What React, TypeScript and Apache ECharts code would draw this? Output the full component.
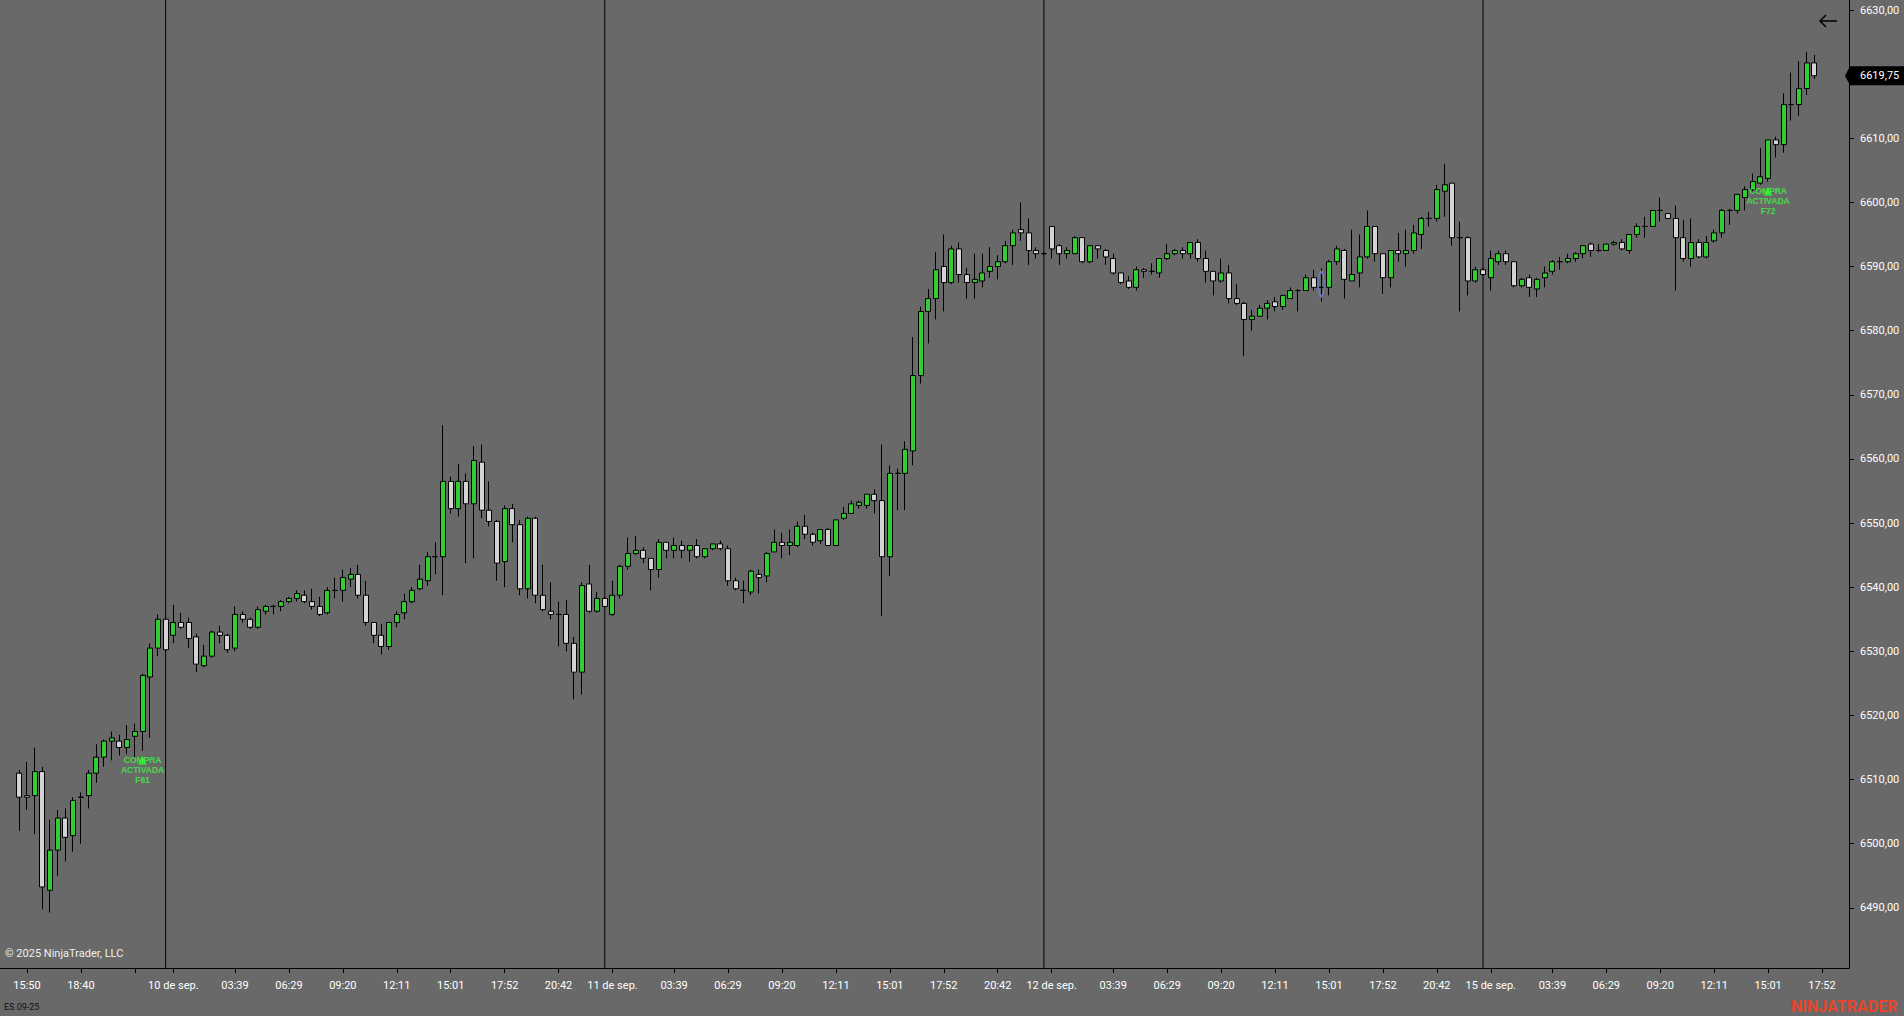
import React, { useEffect, useRef } from 'react';
import * as echarts from 'echarts';

// OHLC per bar (ES 09-25)
const opens = [
  6511, 6507.5, 6507.5, 6511.25, 6492.75, 6499, 6504, 6501.25, 6507.25, 6507.5,
  6511, 6513.5, 6516, 6516, 6515, 6516.75, 6517.5, 6526, 6530.5, 6535,
  6532.5, 6534.5, 6534.5, 6532.25, 6527.75, 6529.25, 6533, 6532.5, 6530.5, 6535.75,
  6535, 6533.75, 6536.25, 6537, 6537, 6537.75, 6538.25, 6538.75, 6537.75, 6537,
  6536, 6539.5, 6539.5, 6541.25, 6542, 6538.75, 6534.5, 6532.5, 6530.75, 6534.5,
  6536, 6537.75, 6539.75, 6541, 6544.75, 6544.75, 6556.5, 6552.25, 6556.5, 6553,
  6559.5, 6552, 6550.25, 6544, 6552.25, 6549.75, 6539.75, 6550.75, 6538.75, 6536.25,
  6535.75, 6535.75, 6531.25, 6526.75, 6540.5, 6536.25, 6538.25, 6535.75, 6538.75, 6543.25,
  6545.25, 6545.75, 6544.5, 6542.75, 6547, 6545.75, 6546.5, 6545.75, 6546.5, 6544.75,
  6546, 6546.75, 6546, 6541, 6539.5, 6539.25, 6542, 6541.75, 6545.5, 6547,
  6546.5, 6546.5, 6549.5, 6548.25, 6547.25, 6549, 6546.5, 6550.75, 6551.5, 6552.75,
  6552.75, 6554.5, 6553.5, 6544.75, 6557.75, 6557.75, 6561.25, 6573, 6583, 6585,
  6590, 6587.5, 6592.75, 6588.75, 6587.5, 6587.75, 6589.25, 6590, 6590.75, 6593.25,
  6595.75, 6595.25, 6592.5, 6592, 6596.25, 6593.25, 6592, 6592, 6594.5, 6590.75,
  6593.25, 6592.5, 6591.25, 6589, 6587.75, 6586.75, 6589.5, 6589.25, 6589, 6591.25,
  6592, 6592.5, 6592, 6593.75, 6591.25, 6589.25, 6587.75, 6589, 6585, 6584.25,
  6581.75, 6582.25, 6583.5, 6584.5, 6583.75, 6585, 6586.25, 6586.25, 6588.25, 6586.75,
  6586.75, 6590.75, 6592.5, 6587.75, 6589, 6591.5, 6596.25, 6592, 6588.25, 6592.5,
  6592, 6592.5, 6595, 6597.5, 6597.5, 6601.75, 6603, 6594.5, 6594.5, 6587.75,
  6589.5, 6588.25, 6590.75, 6592, 6590.75, 6587, 6588.25, 6586.5, 6588.25, 6589.25,
  6590.75, 6590.75, 6591.25, 6592, 6593.5, 6592.5, 6592.5, 6593.5, 6593.75, 6592.5,
  6595, 6596.25, 6596.25, 6598.75, 6598.25, 6597.5, 6594.5, 6591.25, 6593.75, 6591.5,
  6594, 6595.25, 6598.75, 6598.75, 6600.75, 6602, 6603, 6603.75, 6609.75, 6609,
  6615.25, 6615.25, 6617.75, 6621.75
];
const highs = [
  6511.5, 6512.75, 6515, 6512, 6503.75, 6505.25, 6505.5, 6507.25, 6508, 6511.5,
  6515.5, 6516.25, 6517.5, 6517, 6518.5, 6518.75, 6526.5, 6531.25, 6535.75, 6535.25,
  6537.25, 6536, 6535.25, 6532.75, 6531, 6533.25, 6534, 6532.75, 6537, 6536.25,
  6535.25, 6537, 6537.25, 6537.25, 6538, 6538.5, 6539.5, 6539.5, 6539.75, 6538.5,
  6540, 6541.5, 6542.75, 6543, 6543.5, 6541, 6534.5, 6534.25, 6534.5, 6536.25,
  6539, 6540, 6543.5, 6545.5, 6547, 6565.25, 6557.25, 6559.25, 6557.75, 6562,
  6562.25, 6556.5, 6550.5, 6552.75, 6553, 6550.5, 6551, 6551, 6543.5, 6540.75,
  6537.75, 6538, 6532.25, 6540.75, 6543.5, 6539.25, 6538.5, 6541, 6543.5, 6547.75,
  6548, 6546.25, 6544.5, 6547.5, 6547, 6547.75, 6547.25, 6546.5, 6547.5, 6546,
  6546.75, 6547.25, 6546.5, 6541.5, 6541, 6542.75, 6542.75, 6545.5, 6549, 6548.5,
  6549, 6550.25, 6551.25, 6548.5, 6549, 6549.25, 6550.5, 6552.5, 6553.5, 6553.5,
  6554.5, 6555.25, 6562.25, 6559, 6558.5, 6562.75, 6579, 6583.75, 6586.5, 6592.25,
  6595, 6593.25, 6593.75, 6589.75, 6592, 6592, 6593, 6591.75, 6594, 6595.75,
  6600, 6597.5, 6593, 6592.25, 6596.25, 6593.5, 6593, 6594.75, 6594.5, 6593.25,
  6593.25, 6592.75, 6592, 6589, 6588.5, 6590, 6589.75, 6590.5, 6591.25, 6593.5,
  6592.75, 6593, 6593.75, 6594.25, 6592.5, 6589.25, 6591.25, 6590.25, 6587.25, 6584.5,
  6583.25, 6584, 6584.75, 6585.25, 6585.5, 6586.75, 6586.5, 6588.75, 6589.5, 6589.75,
  6591, 6593.25, 6592.75, 6595.75, 6595, 6598.75, 6596.25, 6592, 6592.5, 6595.25,
  6595.75, 6596.5, 6597.75, 6598.5, 6602.75, 6606, 6603, 6597, 6594.75, 6590,
  6589.75, 6592.5, 6592.5, 6592.5, 6590.75, 6588.25, 6588.75, 6588.25, 6590, 6591,
  6591.5, 6592, 6592.25, 6593.25, 6593.75, 6593.5, 6593.5, 6594, 6594.25, 6595,
  6596.75, 6597.75, 6598.75, 6600.75, 6598.25, 6599.5, 6597.25, 6597.5, 6594.25, 6594.75,
  6595.75, 6599, 6599, 6601.25, 6602.5, 6604.5, 6608.5, 6609.75, 6610.25, 6617,
  6620.25, 6622, 6623.5, 6623
];
const lows = [
  6502, 6505.25, 6501.5, 6489.75, 6489.25, 6495, 6497.25, 6498.75, 6500, 6505.5,
  6509.5, 6512, 6513, 6513.75, 6514, 6513.5, 6514.5, 6516.5, 6529.25, 6529.75,
  6531.25, 6533.5, 6530.5, 6526.75, 6527.5, 6529, 6531.25, 6529.75, 6530, 6534.5,
  6533.5, 6533.5, 6535.75, 6535.75, 6536.25, 6537.5, 6537.75, 6537.5, 6536.5, 6535.5,
  6535.75, 6538.25, 6537.75, 6540, 6538.25, 6534, 6531.25, 6529.5, 6530.25, 6533.75,
  6535, 6537.5, 6539.5, 6540.25, 6542, 6538.75, 6551.5, 6551, 6543.75, 6544.5,
  6550.75, 6549.5, 6541, 6540, 6547, 6538.75, 6538.25, 6537.5, 6536.25, 6535,
  6530.75, 6530, 6522.5, 6523.25, 6536, 6536, 6536.75, 6535.5, 6538.25, 6542.75,
  6545, 6543.75, 6539.5, 6541.5, 6544.5, 6544.5, 6544.5, 6544, 6544.5, 6544.5,
  6545.75, 6545.75, 6540.25, 6539.5, 6537.5, 6538.75, 6539, 6540.75, 6545.5, 6544.5,
  6545, 6546.25, 6547.5, 6546.5, 6546.75, 6546.5, 6546.5, 6550.5, 6551.5, 6552.25,
  6552.25, 6551.5, 6535.5, 6541.75, 6552, 6552, 6559, 6571.75, 6578, 6581.75,
  6583, 6587.25, 6587.5, 6585, 6585, 6586.75, 6588.25, 6588, 6590.5, 6590.25,
  6594, 6590.25, 6591.25, 6591.75, 6591.25, 6590.25, 6591.25, 6592, 6590.5, 6590.5,
  6591.25, 6590.25, 6588.75, 6587.25, 6586.5, 6586.25, 6588.25, 6588.75, 6588.25, 6591,
  6591.75, 6591.25, 6591.25, 6590.75, 6587.5, 6585.5, 6587.5, 6584.25, 6584, 6576,
  6580, 6582.25, 6581.75, 6583, 6583.25, 6585, 6583, 6586.25, 6586.25, 6584.5,
  6585.5, 6590.25, 6585, 6587.75, 6586.75, 6591.25, 6590.75, 6585.75, 6586.75, 6590.75,
  6590, 6592, 6592.75, 6596.25, 6597, 6597.75, 6593.25, 6583, 6585.5, 6587.5,
  6588.5, 6586.25, 6590.25, 6590.25, 6586.75, 6586.75, 6585.25, 6585.25, 6586.75, 6588.75,
  6589.5, 6590.5, 6590.75, 6591.25, 6591.5, 6592.25, 6592.5, 6593.25, 6592.5, 6592,
  6594.5, 6594.5, 6596.25, 6597, 6597.5, 6586.25, 6590.75, 6590, 6591.25, 6591.25,
  6593.75, 6594.5, 6596.5, 6598.25, 6598.75, 6601.75, 6602.75, 6603.25, 6607, 6607.75,
  6612.75, 6613.5, 6616.75, 6619.25
];
const closes = [
  6507.25, 6507.25, 6511.25, 6493.25, 6499, 6504, 6501, 6506.75, 6507.25, 6511,
  6513.5, 6516, 6516.5, 6515, 6516.25, 6517.5, 6526.25, 6530.5, 6535, 6530.25,
  6534.5, 6533.75, 6532, 6528, 6529.25, 6533, 6532.5, 6530.25, 6535.75, 6535,
  6533.75, 6536.5, 6537, 6537, 6537.75, 6538.25, 6539, 6537.75, 6537, 6535.75,
  6539.5, 6539.5, 6541.5, 6542, 6538.75, 6534.5, 6532.5, 6530.75, 6534.5, 6535.75,
  6537.75, 6539.5, 6541.25, 6544.75, 6544.75, 6556.5, 6552.25, 6556.5, 6553, 6559.75,
  6552, 6550.25, 6543.75, 6552.25, 6549.75, 6539.75, 6550.75, 6538.75, 6536.5, 6535.75,
  6535.75, 6531.25, 6526.75, 6540.25, 6536.25, 6538.25, 6537, 6538.75, 6543.25, 6545.25,
  6545.75, 6544.5, 6542.75, 6547, 6545.75, 6546.5, 6545.75, 6546.5, 6544.75, 6546,
  6546.75, 6546, 6541, 6539.75, 6539.5, 6542.5, 6541.5, 6545.25, 6547, 6546.5,
  6547, 6549.5, 6548.25, 6547, 6549, 6546.5, 6550.5, 6551.5, 6553, 6553.25,
  6554.5, 6553.5, 6544.75, 6557.75, 6557.75, 6561.5, 6573, 6583, 6585, 6589.5,
  6587.5, 6592.75, 6588.75, 6587.5, 6588, 6589, 6590, 6590.75, 6593.25, 6595.25,
  6595.25, 6592.5, 6592, 6592, 6592.75, 6592, 6592.5, 6594.5, 6590.75, 6593.25,
  6592.75, 6591.5, 6589, 6587.5, 6586.75, 6589.5, 6589.25, 6589.25, 6591.25, 6592,
  6592.5, 6592, 6593.75, 6591.25, 6589.25, 6587.75, 6589, 6585, 6584.25, 6581.75,
  6582.25, 6583.5, 6584.25, 6583.75, 6585.5, 6586.25, 6586.25, 6588.25, 6586.75, 6586.75,
  6590.75, 6592.75, 6588, 6588.75, 6591.5, 6596.25, 6592, 6588.25, 6592.5, 6592,
  6592.5, 6595.25, 6597.5, 6597.5, 6602, 6602.75, 6594.5, 6594.5, 6587.75, 6589.5,
  6588.75, 6591.25, 6592, 6590.75, 6587, 6588, 6586.75, 6588, 6589, 6590.75,
  6590.75, 6591.25, 6592, 6593.25, 6592.5, 6592.5, 6593.5, 6593.75, 6592.75, 6595,
  6596.25, 6596.25, 6598.75, 6598.75, 6597.5, 6594.5, 6591.25, 6593.75, 6591.5, 6593.75,
  6595.25, 6598.75, 6598.75, 6601.25, 6602, 6603.25, 6604, 6609.75, 6609, 6615.25,
  6615.25, 6617.75, 6621.75, 6619.75
];

// x-axis ticks (bar index) and their labels ('' = tick without label)
const tickBars = [1, 8, 15, 20, 28, 35, 42, 49, 56, 63, 70, 77, 85, 92, 99, 106, 113, 120, 127, 134, 142, 149, 156, 163, 170, 177, 184, 191, 199, 206, 213, 220, 227, 234];
const tickLabels = ['15:50', '18:40', '', '10 de sep.', '03:39', '06:29', '09:20', '12:11', '15:01', '17:52', '20:42', '11 de sep.', '03:39', '06:29', '09:20', '12:11', '15:01', '17:52', '20:42', '12 de sep.', '03:39', '06:29', '09:20', '12:11', '15:01', '17:52', '20:42', '15 de sep.', '03:39', '06:29', '09:20', '12:11', '15:01', '17:52'];

// session break bars (vertical separators)
const sessionBreaks = [19, 76, 133, 190];

// y-axis tick values
const yTicks = [6490, 6500, 6510, 6520, 6530, 6540, 6550, 6560, 6570, 6580, 6590, 6600, 6610, 6620, 6630];

// signals
const signalBars = [16, 227];
const signalPrices = [6513, 6601.75];
const signalTexts = ['COMPRA\nACTIVADA\nF61', 'COMPRA\nACTIVADA\nF72'];

// blue ellipse marker
const markerBars = [169];
const markerPrices = [6587.25];

const LEAD = 2;
const SLOTS = 240;
const Y_MIN = 6480.62;
const Y_MAX = 6631.56;

const fmtPrice = (v: number) => v.toFixed(2).replace('.', ',');

export default function App() {
  const ref = useRef<HTMLDivElement>(null);

  useEffect(() => {
    if (!ref.current) return;
    const chart = echarts.init(ref.current, undefined, { renderer: 'svg' });

    const xData = Array.from({ length: SLOTS }, (_, i) => String(i));
    const candleData = xData.map((_, i) => {
      const k = i - LEAD;
      if (k >= 0 && k < opens.length) return [opens[k], closes[k], lows[k], highs[k]];
      return ['-', '-', '-', '-'];
    });
    const breakSet = new Set(sessionBreaks.map((b) => b + LEAD));
    const sepData = xData.map((_, i) => (breakSet.has(i) ? Y_MAX : '-'));

    const labelMap: Record<number, string> = {};
    tickBars.forEach((b, j) => { labelMap[b + LEAD] = tickLabels[j]; });
    const tickSet = new Set(tickBars.map((b) => b + LEAD));
    const labelSet = new Set(tickBars.filter((_, j) => tickLabels[j] !== '').map((b) => b + LEAD));

    const signalData = signalBars.map((b, j) => ({ value: [b + LEAD, signalPrices[j]], text: signalTexts[j] }));
    const markerData = markerBars.map((b, j) => [b + LEAD, markerPrices[j]]);

    const option: any = {
      animation: false,
      backgroundColor: '#696969',
      grid: { left: 0, right: 55, top: 0, bottom: 48, containLabel: false },
      xAxis: {
        type: 'category',
        data: xData,
        boundaryGap: true,
        axisLine: { show: true, lineStyle: { color: '#000', width: 1 } },
        axisTick: {
          show: true,
          alignWithLabel: true,
          length: 5,
          interval: (index: number) => tickSet.has(index),
          lineStyle: { color: '#000', width: 1 },
        },
        axisLabel: {
          interval: (index: number) => labelSet.has(index),
          formatter: (_v: string, index: number) => labelMap[index] || '',
          color: '#ffffff',
          fontSize: 11,
          fontFamily: 'Roboto',
          margin: 12,
        },
        splitLine: { show: false },
      },
      yAxis: {
        type: 'value',
        position: 'right',
        min: Y_MIN,
        max: Y_MAX,
        axisLine: { show: true, lineStyle: { color: '#000', width: 1 } },
        axisTick: { show: true, length: 5, customValues: yTicks, lineStyle: { color: '#000' } },
        axisLabel: {
          customValues: yTicks,
          formatter: (v: number) => fmtPrice(v),
          color: '#ffffff',
          fontSize: 11,
          fontFamily: 'Roboto',
          margin: 11,
        },
        splitLine: { show: false },
      },
      series: [
        {
          type: 'bar',
          data: sepData,
          barWidth: 1,
          itemStyle: { color: '#000' },
          silent: true,
          z: 1,
        },
        {
          type: 'candlestick',
          data: candleData,
          barWidth: 5.5,
          z: 3,
          itemStyle: {
            color: '#32CD32',
            color0: '#D3D3D3',
            borderColor: '#000',
            borderColor0: '#000',
            borderColorDoji: '#000',
            borderWidth: 1,
          },
        },
        {
          type: 'scatter',
          data: signalData,
          symbol: 'triangle',
          symbolSize: [9, 9],
          itemStyle: { color: '#1EFF1E' },
          z: 5,
          label: {
            show: true,
            position: 'inside',
            offset: [0, 10],
            formatter: (p: any) => p.data.text,
            color: '#3CFA3C',
            fontSize: 8.5,
            fontWeight: 'bold',
            fontFamily: 'Arial',
            lineHeight: 10,
          },
        },
        {
          type: 'scatter',
          data: markerData,
          symbol: 'circle',
          symbolSize: [6, 24],
          itemStyle: { color: 'rgba(0,0,0,0)', borderColor: '#6A8FE2', borderWidth: 1.5 },
          z: 5,
        },
      ],
    };

    chart.setOption(option);

    const lastClose = closes[closes.length - 1];
    const yp = chart.convertToPixel({ yAxisIndex: 0 }, lastClose) as number;

    chart.setOption({
      graphic: [
        {
          type: 'polygon',
          shape: { points: [[1845, yp], [1850, yp - 9.5], [1904, yp - 9.5], [1904, yp + 9.5], [1850, yp + 9.5]] },
          style: { fill: '#000' },
          z: 10,
        },
        {
          type: 'text',
          x: 1860,
          y: yp,
          style: { text: fmtPrice(lastClose), fill: '#ffffff', font: '11px Roboto', verticalAlign: 'middle', align: 'left' },
          z: 11,
        },
        {
          type: 'polyline',
          shape: { points: [[1837, 21], [1820, 21]] },
          style: { stroke: '#000', lineWidth: 1.5, fill: 'none' },
          z: 10,
        },
        {
          type: 'polyline',
          shape: { points: [[1826, 15], [1820, 21], [1826, 27]] },
          style: { stroke: '#000', lineWidth: 1.5, fill: 'none' },
          z: 10,
        },
        {
          type: 'text',
          x: 5,
          y: 953,
          style: { text: '© 2025 NinjaTrader, LLC', fill: '#f0f0f0', font: '11px Roboto', verticalAlign: 'middle', align: 'left' },
        },
        {
          type: 'text',
          x: 4,
          y: 1007,
          style: { text: 'ES 09-25', fill: '#111111', font: '9px Roboto', verticalAlign: 'middle', align: 'left' },
        },
        {
          type: 'text',
          x: 1791,
          y: 1006,
          style: { text: 'NINJATRADER', fill: '#E8452C', font: 'bold 16px Roboto', verticalAlign: 'middle', align: 'left' },
        },
      ],
    });

    return () => chart.dispose();
  }, []);

  return (
    <div
      ref={ref}
      style={{ position: 'fixed', left: 0, top: 0, width: 1904, height: 1016, background: '#696969' }}
    />
  );
}
